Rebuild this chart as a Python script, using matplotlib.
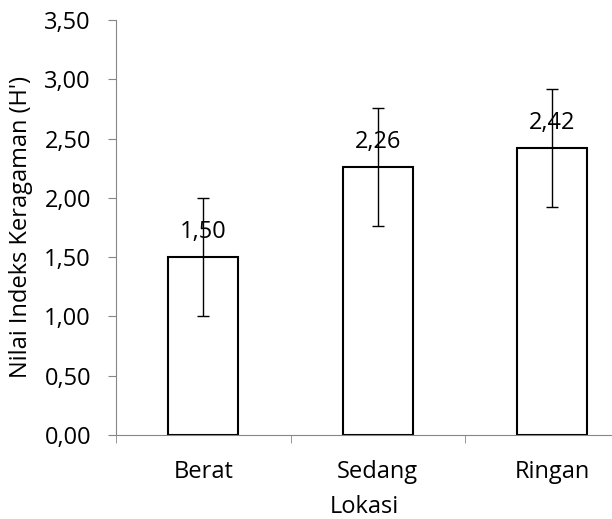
import matplotlib.pyplot as plt

lokasi = ['Berat', 'Sedang', 'Ringan']
nilai = [1.50, 2.26, 2.42]
galat = [0.50, 0.50, 0.50]

plt.rcParams['font.family'] = ['Open Sans', 'DejaVu Sans']
fs = 17

fig = plt.figure(figsize=(6.12, 5.19), dpi=100)
ax = fig.add_axes([116 / 612, 84 / 519, 1 - 116 / 612, (435 - 20) / 519])

x = range(len(lokasi))
ax.bar(x, nilai, width=0.40, color='white', edgecolor='black', linewidth=1.5, zorder=2)
ax.errorbar(x, nilai, yerr=galat, fmt='none', ecolor='black', elinewidth=1,
            capsize=4.5, capthick=1, zorder=3)

for xi, v in zip(x, nilai):
    ax.annotate(f'{v:.2f}'.replace('.', ','), (xi, v), xytext=(0, 18),
                textcoords='offset points', ha='center', va='center', fontsize=fs)

ax.set_xlim(-0.5, (612 - 116) / 174.5 - 0.5)
ax.set_ylim(0, 3.5)
ax.set_yticks([i * 0.5 for i in range(8)])
ax.set_yticklabels([f'{i * 0.5:.2f}'.replace('.', ',') for i in range(8)], fontsize=fs)
ax.set_xticks(x)
ax.set_xticklabels(lokasi, fontsize=fs)
ax.set_xticks([-0.5, 0.5, 1.5], minor=True)
ax.tick_params(axis='x', which='major', length=0, pad=18)
ax.tick_params(axis='x', which='minor', length=6, color='#868686', direction='out')
ax.tick_params(axis='y', length=6, color='#868686', direction='out', pad=12)

for s in ['top', 'right']:
    ax.spines[s].set_visible(False)
ax.spines['left'].set_color('#868686')
ax.spines['bottom'].set_color('#868686')

ax.set_xlabel('Lokasi', fontsize=fs, labelpad=8)
ax.set_ylabel("Nilai Indeks Keragaman (H')", fontsize=fs, labelpad=8)

fig.savefig('out.png', dpi=100)
